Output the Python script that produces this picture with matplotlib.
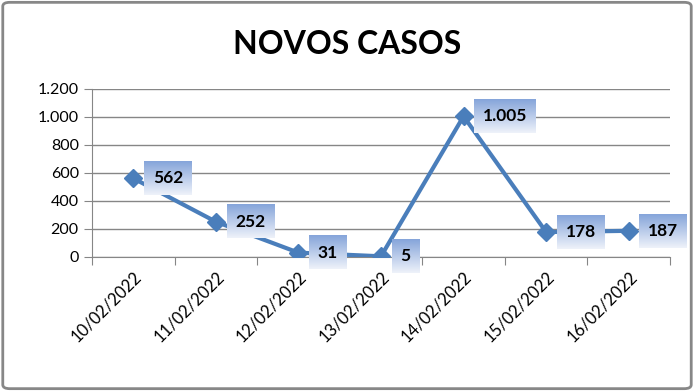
import matplotlib
matplotlib.use('Agg')
import numpy as np
import matplotlib.pyplot as plt
from matplotlib.patches import FancyBboxPatch
from matplotlib.colors import LinearSegmentedColormap
from matplotlib.ticker import FuncFormatter, FixedLocator

datas = ['10/02/2022', '11/02/2022', '12/02/2022', '13/02/2022',
         '14/02/2022', '15/02/2022', '16/02/2022']
casos = [562, 252, 31, 5, 1005, 178, 187]
rotulos = ['562', '252', '31', '5', '1.005', '178', '187']

plt.rcParams['font.family'] = ['Lato', 'DejaVu Sans']

fig = plt.figure(figsize=(6.94, 3.91), dpi=100)
ax = fig.add_axes([92/694, 1 - 257/391, 578/694, 168/391])

# borda externa
borda = FancyBboxPatch((0.004, 0.006), 0.992, 0.988, boxstyle='round,pad=0,rounding_size=0.01',
                       transform=fig.transFigure, fill=False, edgecolor='#878787', linewidth=2)
fig.patches.append(borda)

x = list(range(len(datas)))
ax.plot(x, casos, color='#4a7ebb', linewidth=3, marker='D', markersize=9, zorder=3)

anotacoes = []
for xi, yi, r in zip(x, casos, rotulos):
    a = ax.annotate(r, (xi, yi), xytext=(14, 0), textcoords='offset points',
                    ha='left', va='center', fontsize=12.5, fontweight='bold', color='black',
                    bbox=dict(boxstyle='square,pad=0.5', facecolor='none', edgecolor='none'),
                    zorder=5)
    anotacoes.append(a)

ax.set_xlim(-0.5, 6.5)
ax.set_ylim(0, 1200)
ax.yaxis.set_major_locator(FixedLocator(range(0, 1201, 200)))
ax.yaxis.set_major_formatter(FuncFormatter(lambda v, p: f'{int(v):,}'.replace(',', '.')))
ax.grid(axis='y', color='#868686', linewidth=1)
ax.set_axisbelow(True)

ax.set_xticks([i + 0.5 for i in x[:-1]] + [-0.5, 6.5])
ax.set_xticklabels([])
ax.set_xticks(x, minor=True)
ax.set_xticklabels(datas, minor=True, rotation=45, ha='right', va='top',
                   rotation_mode='anchor', fontsize=12)
ax.tick_params(axis='x', which='minor', length=0, pad=8)
ax.tick_params(axis='x', which='major', length=6, color='#868686')
ax.tick_params(axis='y', length=6, color='#868686', labelsize=11.5)

for lado in ['top', 'right']:
    ax.spines[lado].set_visible(False)
ax.spines['left'].set_color('#868686')
ax.spines['bottom'].set_color('#868686')

fig.text(0.5, 0.885, 'NOVOS CASOS', ha='center', va='center',
         fontsize=23, fontweight='bold')

# fundo em degrade dos rotulos
grad = LinearSegmentedColormap.from_list('rot', ['#eef2fa', '#86a5da'])
fig.canvas.draw()
inv = ax.transData.inverted()
for a in anotacoes:
    bb = a.get_bbox_patch().get_window_extent()
    (x0, y0), (x1, y1) = inv.transform([(bb.x0, bb.y0), (bb.x1, bb.y1)])
    ax.imshow(np.linspace(0, 1, 64).reshape(-1, 1), cmap=grad, origin='lower',
              extent=(x0, x1, y0, y1), aspect='auto', zorder=4, clip_on=False)
ax.set_xlim(-0.5, 6.5)
ax.set_ylim(0, 1200)

fig.savefig('out.png', dpi=100)
